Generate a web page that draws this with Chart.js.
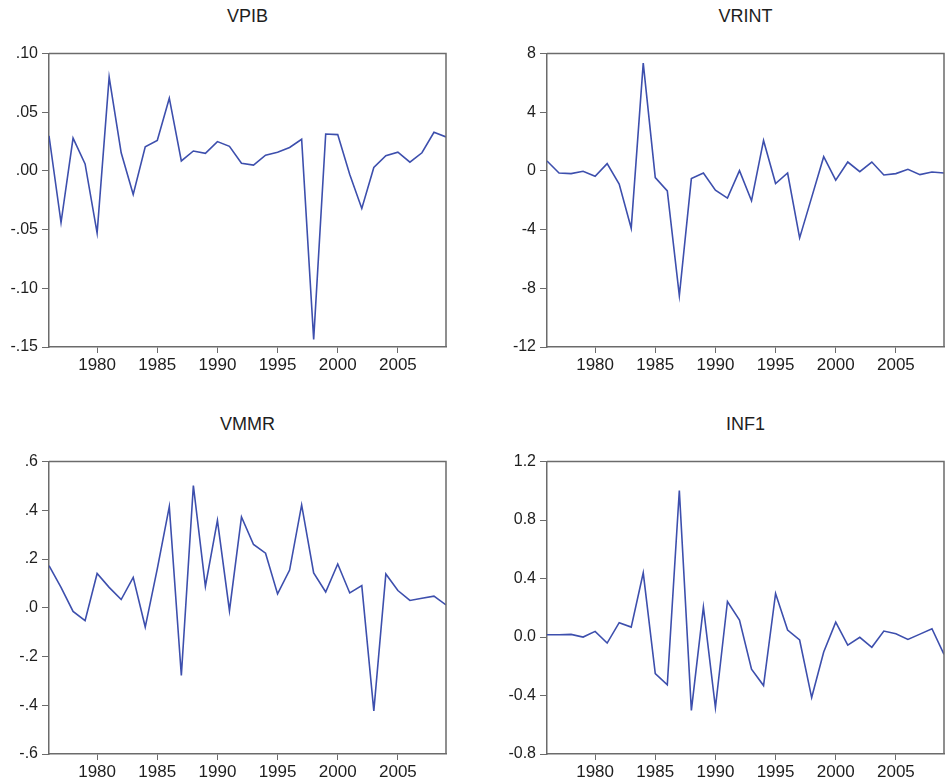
<!DOCTYPE html>
<html>
<head>
<meta charset="utf-8">
<script src="https://cdn.jsdelivr.net/npm/chart.js@4.4.1/dist/chart.umd.min.js"></script>
<style>
  html, body { margin: 0; padding: 0; background: #fff; }
  body { width: 945px; height: 782px; position: relative; overflow: hidden; font-family: "Liberation Sans", Arial, sans-serif; }
  canvas { position: absolute; }
  .ttl { position: absolute; font-size: 18px; color: #1e1e1e; text-align: center; line-height: 20px; }
</style>
</head>
<body>
<div class="ttl" style="left:49px;width:397px;top:6px;">VPIB</div>
<div class="ttl" style="left:547px;width:397px;top:6px;">VRINT</div>
<div class="ttl" style="left:49px;width:397px;top:414px;">VMMR</div>
<div class="ttl" style="left:547px;width:397px;top:414px;">INF1</div>

<canvas id="cVPIB" width="460" height="340" style="left:0;top:40px;width:460px;height:340px;"></canvas>
<canvas id="cVRINT" width="447" height="340" style="left:498px;top:40px;width:447px;height:340px;"></canvas>
<canvas id="cVMMR" width="460" height="334" style="left:0;top:448px;width:460px;height:334px;"></canvas>
<canvas id="cINF1" width="447" height="334" style="left:498px;top:448px;width:447px;height:334px;"></canvas>

<script>
'use strict';

// annual observations 1976-2009
const years = [1976,1977,1978,1979,1980,1981,1982,1983,1984,1985,1986,1987,1988,1989,1990,1991,1992,
               1993,1994,1995,1996,1997,1998,1999,2000,2001,2002,2003,2004,2005,2006,2007,2008,2009];
const yearTicks = [1980, 1985, 1990, 1995, 2000, 2005];

const vpib = [0.030,-0.044,0.028,0.006,-0.053,0.080,0.0155,-0.020,0.0205,0.026,0.062,0.0085,0.017,0.015,
              0.025,0.021,0.0065,0.005,0.0135,0.016,0.020,0.027,-0.1435,0.0315,0.031,-0.003,-0.032,0.003,
              0.013,0.016,0.0075,0.0155,0.033,0.029];
const vrint = [0.68,-0.14,-0.18,-0.02,-0.36,0.50,-0.90,-3.90,7.35,-0.45,-1.36,-8.50,-0.52,-0.14,-1.31,-1.85,
               0.02,-2.03,2.08,-0.86,-0.14,-4.56,-1.80,0.97,-0.63,0.61,-0.05,0.61,-0.27,-0.18,0.11,-0.25,-0.07,-0.14];
const vmmr = [0.173,0.084,-0.015,-0.053,0.141,0.084,0.034,0.125,-0.079,0.160,0.415,-0.278,0.502,0.088,0.359,
              -0.012,0.373,0.260,0.224,0.057,0.155,0.422,0.143,0.065,0.180,0.061,0.091,-0.423,0.139,0.071,
              0.030,0.039,0.048,0.012];
const inf1 = [0.016,0.016,0.018,0.000,0.039,-0.041,0.098,0.068,0.439,-0.250,-0.327,1.002,-0.502,0.205,-0.482,
              0.243,0.116,-0.220,-0.332,0.298,0.048,-0.020,-0.414,-0.102,0.102,-0.055,-0.002,-0.070,0.041,
              0.023,-0.016,0.020,0.057,-0.118];

const vpibTicks = [-0.15, -0.10, -0.05, 0.00, 0.05, 0.10];
const vpibLabels = ['-.15', '-.10', '-.05', '.00', '.05', '.10'];
const vrintTicks = [-12, -8, -4, 0, 4, 8];
const vrintLabels = ['-12', '-8', '-4', '0', '4', '8'];
const vmmrTicks = [-0.6, -0.4, -0.2, 0.0, 0.2, 0.4, 0.6];
const vmmrLabels = ['-.6', '-.4', '-.2', '.0', '.2', '.4', '.6'];
const inf1Ticks = [-0.8, -0.4, 0.0, 0.4, 0.8, 1.2];
const inf1Labels = ['-0.8', '-0.4', '0.0', '0.4', '0.8', '1.2'];

const lineColor = '#3d4fad';
const frameColor = '#6b6b6b';
const textColor = '#1e1e1e';
const tickFont = { size: 17, family: '"Liberation Sans", Arial, sans-serif' };

// top and right sides of the box
const framePlugin = {
    id: 'frame',
    afterDraw(chart) {
        const a = chart.chartArea, ctx = chart.ctx;
        ctx.save();
        ctx.strokeStyle = frameColor;
        ctx.lineWidth = 1.5;
        ctx.beginPath();
        ctx.moveTo(a.left, a.top);
        ctx.lineTo(a.right, a.top);
        ctx.lineTo(a.right, a.bottom);
        ctx.stroke();
        ctx.restore();
    }
};

function makePanel(id, values, ticks, labels, padRight, xHeight) {
    const ctx = document.getElementById(id).getContext('2d');
    const points = years.map((y, i) => ({ x: y, y: values[i] }));
    return new Chart(ctx, {
        type: 'line',
        data: { datasets: [{ data: points, borderColor: lineColor, borderWidth: 1.6, pointRadius: 0, tension: 0, fill: false }] },
        plugins: [framePlugin],
        options: {
            responsive: false,
            animation: false,
            layout: { padding: { top: 12, right: padRight, left: 0, bottom: 0 } },
            plugins: { legend: { display: false }, tooltip: { enabled: false } },
            scales: {
                x: {
                    type: 'linear',
                    min: years[0],
                    max: years[years.length - 1],
                    afterBuildTicks: s => { s.ticks = yearTicks.map(v => ({ value: v })); },
                    afterFit: s => { s.height = xHeight; },
                    grid: { drawOnChartArea: false, drawTicks: true, tickLength: 6, color: frameColor, lineWidth: 1 },
                    border: { color: frameColor, width: 1.5 },
                    ticks: { color: textColor, font: tickFont, maxRotation: 0, padding: 2, callback: v => String(v) }
                },
                y: {
                    min: ticks[0],
                    max: ticks[ticks.length - 1],
                    afterBuildTicks: s => { s.ticks = ticks.map(v => ({ value: v })); },
                    afterFit: s => { s.width = 49; },
                    grid: { drawOnChartArea: false, drawTicks: true, tickLength: 7, color: frameColor, lineWidth: 1 },
                    border: { color: frameColor, width: 1.5 },
                    ticks: { color: textColor, font: { size: 16, family: tickFont.family }, padding: 4, callback: (v, i) => labels[i] }
                }
            }
        }
    });
}

makePanel('cVPIB', vpib, vpibTicks, vpibLabels, 14, 33);
makePanel('cVRINT', vrint, vrintTicks, vrintLabels, 1, 33);
makePanel('cVMMR', vmmr, vmmrTicks, vmmrLabels, 14, 28);
makePanel('cINF1', inf1, inf1Ticks, inf1Labels, 1, 28);
</script>
</body>
</html>
